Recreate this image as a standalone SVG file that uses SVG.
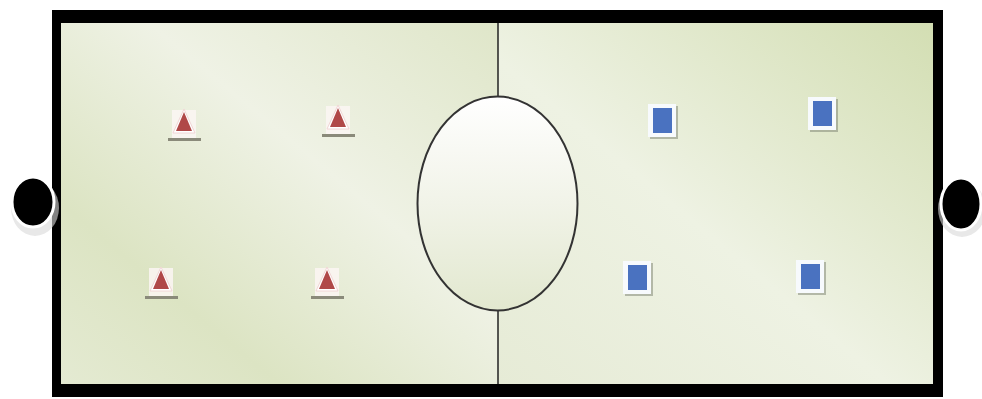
<svg xmlns="http://www.w3.org/2000/svg" width="982" height="399" viewBox="0 0 982 399">
<defs>
<linearGradient id="gl" x1="1" y1="0" x2="0" y2="1">
<stop offset="0" stop-color="#dfe6c9"/>
<stop offset="0.4" stop-color="#eff2e5"/>
<stop offset="0.75" stop-color="#dce4c3"/>
<stop offset="1" stop-color="#e4ead2"/>
</linearGradient>
<linearGradient id="gr" x1="0" y1="1" x2="1" y2="0">
<stop offset="0" stop-color="#e6ebd6"/>
<stop offset="0.45" stop-color="#eef2e3"/>
<stop offset="1" stop-color="#d3deb3"/>
</linearGradient>
<linearGradient id="ge" x1="0" y1="0" x2="0" y2="1">
<stop offset="0" stop-color="#ffffff"/>
<stop offset="0.5" stop-color="#f1f3e8"/>
<stop offset="1" stop-color="#e2e8cf"/>
</linearGradient>
<g id="tri">
<rect x="-12" y="-14" width="24" height="28" fill="#fbf6f3" opacity="0.85"/>
<polygon points="0,-15 11,9 -11,9" fill="#fff" stroke="#f1d6d6" stroke-width="1"/>
<polygon points="0,-12 8,7 -8,7" fill="#b04848"/>
<rect x="-16" y="14" width="33" height="3" fill="#8a8a7a"/>
</g>
<g id="sq">
<rect x="-13" y="-15" width="28" height="33" fill="#7a7f70" opacity="0.5"/>
<rect x="-15" y="-17" width="28" height="33" fill="#f7fafd"/>
<rect x="-10" y="-13" width="19" height="25" fill="#4a72c0"/>
</g>
<style>
.ball{fill:#000;stroke:#fff;stroke-width:3}
</style>
</defs>
<rect width="982" height="399" fill="#fff"/>
<g id="field">
<rect x="52" y="10" width="891" height="387" fill="#000"/>
<rect x="61" y="23" width="437" height="361" fill="url(#gl)"/>
<rect x="498" y="23" width="435" height="361" fill="url(#gr)"/>
<line x1="498" y1="23" x2="498" y2="384" stroke="#222" stroke-width="1.5"/>
</g>
<g id="center">
<ellipse cx="497.5" cy="203.5" rx="80" ry="107" fill="url(#ge)" stroke="#333" stroke-width="2"/>
</g>
<g id="goal-left">
<ellipse cx="35" cy="208" rx="24" ry="28" fill="#d8d8d8" opacity="0.6"/>
<ellipse cx="33" cy="202" rx="21" ry="25" class="ball"/>
</g>
<g id="goal-right">
<ellipse cx="962" cy="209" rx="24" ry="28" fill="#d8d8d8" opacity="0.6"/>
<ellipse cx="961" cy="204" rx="20" ry="26" class="ball"/>
</g>
<g id="red1"><use href="#tri" x="184" y="124"/></g>
<g id="red2"><use href="#tri" x="338" y="120"/></g>
<g id="red3"><use href="#tri" x="161" y="282"/></g>
<g id="red4"><use href="#tri" x="327" y="282"/></g>
<g id="blue1"><use href="#sq" x="663" y="121"/></g>
<g id="blue2"><use href="#sq" x="823" y="114"/></g>
<g id="blue3"><use href="#sq" x="638" y="278"/></g>
<g id="blue4"><use href="#sq" x="811" y="277"/></g>
</svg>
